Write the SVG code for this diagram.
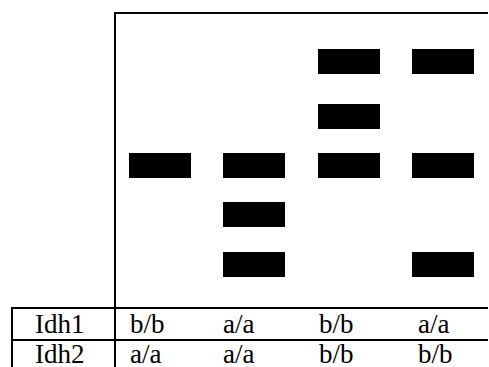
<svg xmlns="http://www.w3.org/2000/svg" width="489" height="367" viewBox="0 0 489 367">
<style>
.ln{stroke:#000;stroke-width:2;fill:none}
.band{fill:#000}
.t{font-family:'Liberation Serif','Times New Roman','DejaVu Serif',serif;font-size:27px;fill:#000}
</style>
<rect width="489" height="367" fill="#fff"/>
<g id="frame">
<path class="ln" d="M115,367 V13 H488"/>
</g>
<g id="lane1">
<rect class="band" x="129" y="153" width="62" height="25"/>
</g>
<g id="lane2">
<rect class="band" x="223" y="153" width="62" height="25"/>
<rect class="band" x="223" y="202" width="62" height="25"/>
<rect class="band" x="223" y="252" width="62" height="25"/>
</g>
<g id="lane3">
<rect class="band" x="318" y="49" width="62" height="25"/>
<rect class="band" x="318" y="104" width="62" height="25"/>
<rect class="band" x="318" y="153" width="62" height="25"/>
</g>
<g id="lane4">
<rect class="band" x="412" y="49" width="62" height="25"/>
<rect class="band" x="412" y="153" width="62" height="25"/>
<rect class="band" x="412" y="252" width="62" height="25"/>
</g>
<g id="table">
<path class="ln" d="M11,308 H488 M11,340 H488 M12,307 V367"/>
<text class="t" x="35" y="333">Idh1</text>
<text class="t" x="130" y="333">b/b</text>
<text class="t" x="223" y="333">a/a</text>
<text class="t" x="319" y="333">b/b</text>
<text class="t" x="418" y="333">a/a</text>
<text class="t" x="35" y="363">Idh2</text>
<text class="t" x="130" y="363">a/a</text>
<text class="t" x="223" y="363">a/a</text>
<text class="t" x="319" y="363">b/b</text>
<text class="t" x="418" y="363">b/b</text>
</g>
</svg>
